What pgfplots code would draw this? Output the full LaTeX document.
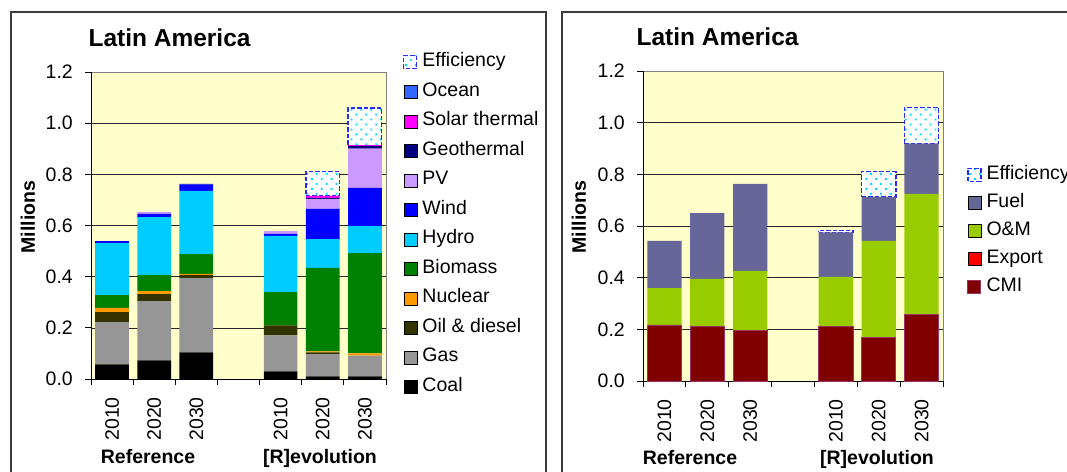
\documentclass[border=0pt]{standalone}
\usepackage{pgfplots}
\pgfplotsset{compat=1.18}
\usepackage{fontspec}
\setmainfont{Liberation Sans}
\usetikzlibrary{patterns.meta}

\definecolor{bgyellow}{RGB}{255,255,204}
\definecolor{cCoal}{RGB}{0,0,0}
\definecolor{cGas}{RGB}{150,150,150}
\definecolor{cOil}{RGB}{51,51,0}
\definecolor{cNuclear}{RGB}{255,153,0}
\definecolor{cBiomass}{RGB}{0,128,0}
\definecolor{cHydro}{RGB}{0,204,255}
\definecolor{cWind}{RGB}{0,0,255}
\definecolor{cPV}{RGB}{204,153,255}
\definecolor{cGeo}{RGB}{0,0,128}
\definecolor{cSolar}{RGB}{255,0,255}
\definecolor{cOcean}{RGB}{51,102,255}
\definecolor{cEffEdge}{RGB}{40,40,255}
\definecolor{cEffDot}{RGB}{0,220,255}
\definecolor{cCMI}{RGB}{128,0,0}
\definecolor{cCMIedge}{RGB}{153,51,102}
\definecolor{cExport}{RGB}{255,0,0}
\definecolor{cOM}{RGB}{153,204,0}
\definecolor{cFuel}{RGB}{102,102,153}
\definecolor{cFrame}{RGB}{60,60,60}

\newcommand{\txt}{\fontsize{19.5}{22}\selectfont}

\pgfplotsset{
  panel/.style={
    scale only axis,
    ybar stacked,
    bar width=0.8,
    xmin=0.5, xmax=7.5,
    ymin=0, ymax=1.2,
    enlargelimits=false,
    axis lines=left,
    axis line style={-, black, line width=0.8pt},
    axis background/.style={fill=bgyellow, draw=gray, line width=0.8pt},
    ytick={0,0.2,0.4,0.6,0.8,1.0,1.2},
    /pgf/number format/fixed,
    /pgf/number format/fixed zerofill,
    /pgf/number format/precision=1,
    /pgf/number format/assume math mode=true,
    extra y ticks={0.2,0.4,0.6,0.8,1.0},
    extra y tick labels={},
    extra y tick style={grid=major},
    major grid style={black!85, line width=0.6pt},
    xtick={1,2,3,5,6,7},
    xticklabels={2010,2020,2030,2010,2020,2030},
    minor xtick={0.5,1.5,2.5,3.5,4.5,5.5,6.5,7.5},
    major x tick style={draw=none},
    minor x tick style={draw=black, line width=0.8pt},
    y tick style={draw=black, line width=0.8pt},
    tick align=outside,
    major tick length=6pt,
    minor tick length=6pt,
    tick label style={font=\txt},
    xticklabel style={rotate=90, anchor=east, inner sep=0pt},
    yticklabel style={anchor=east, inner sep=0pt},
    xticklabel shift=12pt,
    yticklabel shift=12pt,
    legend cell align=left,
    reverse legend,
  },
  sq/.style={legend image code/.code={\draw[##1] (0pt,-6.5pt) rectangle (13pt,6.5pt);}},
  eff/.style={sq, fill=white, draw=cEffEdge, dash pattern=on 4.5pt off 2pt, line width=1.3pt,
    postaction={pattern={Dots[distance=7pt, radius=1.3pt, angle=45]}, pattern color=cEffDot}},
}

\begin{document}
\begin{tikzpicture}[x=1pt, y=1pt]
\path[use as bounding box] (0,0) rectangle (1067,471);

% frames
\draw[cFrame, line width=1.2pt] (11,-5) -- (11,459) -- (546,459) -- (546,-5);
\draw[cFrame, line width=1.2pt] (562,-5) -- (562,459) -- (1080,459);

% ---------- left panel: generation by technology ----------
\begin{axis}[panel,
    at={(91pt,92pt)}, anchor=south west,
    width=295pt, height=307pt,
    legend style={draw=none, fill=none, at={(axis description cs:1.0576,1.060)}, anchor=north west,
      font=\txt, row sep=12.5pt, column sep=5pt, inner sep=0pt,
      nodes={inner sep=0pt, text height=13pt, text depth=4pt}},
  ]
  % coordinates in order 6,7,5,1,2,3
  \addplot[sq, fill=cCoal, draw=none] coordinates {(6,0.010) (7,0.010) (5,0.030) (1,0.057) (2,0.073) (3,0.104)};
  \addplot[sq, fill=cGas, draw=none] coordinates {(6,0.087) (7,0.081) (5,0.141) (1,0.165) (2,0.231) (3,0.290)};
  \addplot[sq, fill=cOil, draw=none] coordinates {(6,0.007) (7,0.000) (5,0.039) (1,0.039) (2,0.028) (3,0.012)};
  \addplot[sq, fill=cNuclear, draw=none] coordinates {(6,0.004) (7,0.009) (5,0.000) (1,0.017) (2,0.011) (3,0.005)};
  \addplot[sq, fill=cBiomass, draw=none] coordinates {(6,0.326) (7,0.392) (5,0.130) (1,0.050) (2,0.063) (3,0.077)};
  \addplot[sq, fill=cHydro, draw=none] coordinates {(6,0.113) (7,0.106) (5,0.219) (1,0.203) (2,0.227) (3,0.247)};
  \addplot[sq, fill=cWind, draw=none] coordinates {(6,0.118) (7,0.149) (5,0.008) (1,0.008) (2,0.012) (3,0.026)};
  \addplot[sq, fill=cPV, draw=none] coordinates {(6,0.039) (7,0.153) (5,0.011) (1,0.000) (2,0.008) (3,0.000)};
  \addplot[sq, fill=cGeo, draw=none] coordinates {(6,0.004) (7,0.011) (5,0.000) (1,0.000) (2,0.000) (3,0.002)};
  \addplot[sq, fill=cSolar, draw=none] coordinates {(6,0.008) (7,0.003) (5,0.000) (1,0.000) (2,0.000) (3,0.000)};
  \addplot[sq, fill=cOcean, draw=none] coordinates {(6,0) (7,0) (5,0) (1,0) (2,0) (3,0)};
  \addplot[eff] coordinates {(6,0.096) (7,0.145)};
  \legend{Coal,Gas,Oil \& diesel,Nuclear,Biomass,Hydro,Wind,PV,Geothermal,Solar thermal,Ocean,Efficiency}
\end{axis}

% ---------- right panel: costs ----------
\begin{axis}[panel,
    at={(643pt,90pt)}, anchor=south west,
    width=300pt, height=310pt,
    legend style={draw=none, fill=none, at={(axis description cs:1.08,0.6935)}, anchor=north west,
      font=\txt, row sep=11pt, column sep=5pt, inner sep=0pt,
      nodes={inner sep=0pt, text height=13pt, text depth=4pt}},
  ]
  % coordinates in order 5,6,7,1,2,3
  \addplot[sq, fill=cCMI, draw=cCMIedge, line width=0.8pt] coordinates {(5,0.212) (6,0.168) (7,0.259) (1,0.217) (2,0.212) (3,0.197)};
  \addplot[sq, fill=cExport, draw=none] coordinates {(5,0) (6,0) (7,0) (1,0) (2,0) (3,0)};
  \addplot[sq, fill=cOM, draw=none] coordinates {(5,0.191) (6,0.374) (7,0.465) (1,0.143) (2,0.183) (3,0.229)};
  \addplot[sq, fill=cFuel, draw=none] coordinates {(5,0.172) (6,0.170) (7,0.195) (1,0.182) (2,0.255) (3,0.337)};
  \addplot[eff] coordinates {(5,0.008) (6,0.098) (7,0.140)};
  \legend{CMI,Export,O\&M,Fuel,Efficiency}
\end{axis}

% titles and labels
\node[anchor=west, font=\fontsize{24.5}{27}\selectfont\bfseries] at (85,433) {Latin America};
\node[anchor=west, font=\fontsize{24.5}{27}\selectfont\bfseries] at (633,434) {Latin America};
\node[rotate=90, font=\txt\bfseries] at (28,254) {Millions};
\node[rotate=90, font=\txt\bfseries] at (579,254) {Millions};
\node[anchor=base, font=\txt\bfseries] at (148,8) {Reference};
\node[anchor=base, font=\txt\bfseries] at (320,8) {[R]evolution};
\node[anchor=base, font=\txt\bfseries] at (690,7) {Reference};
\node[anchor=base, font=\txt\bfseries] at (877,7) {[R]evolution};
\end{tikzpicture}
\end{document}
